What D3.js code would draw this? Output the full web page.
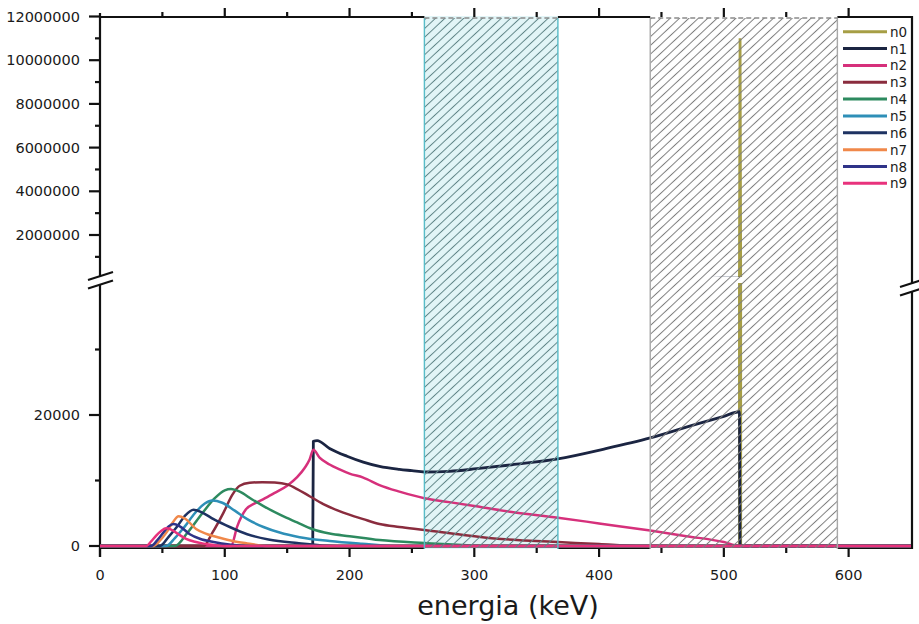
<!DOCTYPE html>
<html><head><meta charset="utf-8">
<script src="https://cdn.jsdelivr.net/npm/d3@7"></script>
<style>body{margin:0;background:#fff}svg{display:block}</style>
</head><body><svg id="c" width="919" height="624"></svg>
<script>
// ---------- data ----------
const seriesNames = ["n0","n1","n2","n3","n4","n5","n6","n7","n8","n9"];
const seriesColors = ["#a69e45","#1b2542","#d6307b","#8a2c3e","#2d8a5f","#2e8fb7","#1e3262","#f0884a","#2f3388","#e8327c"];

const e0 = [0, 512.5, 513, 513.5, 650];
const c0 = [0, 0, 11000000, 0, 0];
const e1 = [0, 170.5, 171, 174, 184, 198, 211, 224, 240, 250, 260, 280, 302, 330, 367, 404, 441, 476, 500, 512.5, 513, 650];
const c1 = [0, 0, 16000, 16100, 14900, 13700, 12800, 12150, 11700, 11500, 11300, 11400, 11800, 12400, 13300, 14800, 16500, 18500, 19800, 20500, 0, 0];
const e2 = [0, 105, 110, 117, 124, 131, 140, 150, 158, 164, 168, 171, 176, 184, 192, 200, 211, 224, 240, 260, 280, 300, 330, 367, 400, 441, 470, 500, 512, 650];
const c2 = [0, 0, 3000, 5600, 6500, 7150, 8100, 9200, 10500, 11900, 13200, 14700, 13500, 12450, 11700, 11050, 10450, 9300, 8300, 7300, 6700, 6100, 5200, 4330, 3450, 2350, 1500, 600, 0, 0];
const e3 = [0, 83, 90, 99, 106, 112, 120, 130, 140, 150, 158, 168, 179, 195, 211, 224, 240, 260, 290, 316, 340, 367, 400, 430, 650];
const c3 = [0, 0, 2000, 5100, 7800, 9200, 9650, 9750, 9700, 9400, 8700, 7600, 6400, 5100, 4100, 3350, 2900, 2450, 1700, 1150, 850, 600, 300, 0, 0];
const e4 = [0, 60, 70, 82, 92, 100, 105, 112, 122, 131, 145, 158, 170, 184, 200, 224, 260, 320, 650];
const c4 = [0, 0, 2000, 5000, 7300, 8500, 8700, 8300, 7100, 6100, 4700, 3600, 2600, 1900, 1500, 900, 450, 0, 0];
const e5 = [0, 53, 60, 68, 76, 84, 90, 98, 108, 118, 131, 144, 160, 184, 210, 240, 650];
const c5 = [0, 0, 1200, 3000, 5000, 6500, 6950, 6600, 5400, 4100, 2900, 2050, 1350, 760, 350, 0, 0];
const e6 = [0, 48, 55, 62, 68, 75, 82, 91, 104, 118, 135, 158, 190, 650];
const c6 = [0, 0, 1400, 3000, 4600, 5550, 5100, 4100, 2900, 1800, 1000, 450, 0, 0];
const e7 = [0, 43, 48, 53, 58, 63, 68, 77, 86, 96, 108, 118, 135, 650];
const c7 = [0, 0, 800, 2000, 3500, 4550, 4200, 2600, 1800, 1250, 700, 400, 0, 0];
const e8 = [0, 41, 46, 51, 55, 59, 64, 72, 80, 91, 105, 120, 650];
const c8 = [0, 0, 900, 2100, 3000, 3350, 3000, 1800, 1100, 600, 200, 0, 0];
const e9 = [0, 37, 41, 45, 49, 53, 57, 62, 69, 76, 82, 90, 100, 650];
const c9 = [0, 0, 700, 1600, 2300, 2700, 2500, 1900, 1100, 650, 400, 180, 0, 0];

const energies = [e0,e1,e2,e3,e4,e5,e6,e7,e8,e9];
const counts = [c0,c1,c2,c3,c4,c5,c6,c7,c8,c9];

const xMajorTicks = [0,100,200,300,400,500,600];
const xMinorTicks = [50,150,250,350,450,550];
const yLowMajor = [0, 20000];
const yLowMinor = [10000, 30000];
const yHighMajor = [2000000,4000000,6000000,8000000,10000000,12000000];
const yHighMinor = [1000000,3000000,5000000,7000000,9000000,11000000];
const bandCyan = [260, 367];
const bandGray = [441, 591];
const xTitle = "energia (keV)";

// ---------- layout ----------
const svg = d3.select("#c");
const L = 100, R = 912, TOP = 17, BOT = 548;
const x = d3.scaleLinear().domain([0,650]).range([L, 911]);
const yLo = d3.scaleLinear().domain([0,20000]).range([546,415]);
const yHi = d3.scaleLinear().domain([2000000,12000000]).range([235,16.5]);
const font = "'DejaVu Sans', sans-serif";
const ink = "#111";

const defs = svg.append("defs");
defs.append("clipPath").attr("id","clipLo").append("rect").attr("x",L).attr("y",283).attr("width",R-L).attr("height",270);
defs.append("clipPath").attr("id","clipHi").append("rect").attr("x",L).attr("y",10).attr("width",R-L).attr("height",267);
function hatch(id, color){
  const p = defs.append("pattern").attr("id",id).attr("patternUnits","userSpaceOnUse")
    .attr("width",6.4).attr("height",6.4).attr("patternTransform","rotate(47)");
  p.append("line").attr("x1",3.2).attr("y1",-1).attr("x2",3.2).attr("y2",8).attr("stroke",color).attr("stroke-width",1);
}
hatch("hC","#5f8587");
hatch("hG","#7d7d7d");

// axis lines
const ax = svg.append("g").attr("stroke",ink).attr("stroke-width",2.2).attr("fill","none");
ax.append("line").attr("x1",L).attr("x2",R).attr("y1",TOP).attr("y2",TOP);
ax.append("line").attr("x1",L).attr("x2",R).attr("y1",BOT).attr("y2",BOT);
ax.append("line").attr("x1",L).attr("x2",L).attr("y1",13).attr("y2",277);
ax.append("line").attr("x1",L).attr("x2",L).attr("y1",284).attr("y2",557);
ax.append("line").attr("x1",R).attr("x2",R).attr("y1",TOP-1).attr("y2",284);
ax.append("line").attr("x1",R).attr("x2",R).attr("y1",291).attr("y2",BOT+1);

// band fills
function bandFill(b, fill){
  svg.append("rect").attr("x",x(b[0])).attr("width",x(b[1])-x(b[0]))
    .attr("y",TOP-1).attr("height",BOT+1-(TOP-1)).attr("fill",fill);
}
bandFill(bandCyan,"#e2f5f7");
bandFill(bandGray,"#ffffff");

// curves
const gLo = svg.append("g").attr("clip-path","url(#clipLo)");
const gHi = svg.append("g").attr("clip-path","url(#clipHi)");
seriesNames.forEach((n,i)=>{
  const pts = energies[i].map((e,j)=>[e, counts[i][j]]);
  const cv = i===0 ? d3.curveLinear : d3.curveMonotoneX;
  const lineLo = d3.line().x(d=>x(d[0])).y(d=>yLo(d[1])).curve(cv);
  const lineHi = d3.line().x(d=>x(d[0])).y(d=>yHi(d[1])).curve(cv);
  gLo.append("path").attr("d", lineLo(pts))
    .attr("fill","none").attr("stroke",seriesColors[i]).attr("stroke-width", i<=1?2.8:2.5).attr("stroke-linejoin","round");
  gHi.append("path").attr("d", lineHi(pts))
    .attr("fill","none").attr("stroke",seriesColors[i]).attr("stroke-width",2.8);
});

// hatch overlay + borders
function bandTop(b, pat, border){
  const x0 = x(b[0]), x1 = x(b[1]);
  svg.append("rect").attr("x",x0).attr("width",x1-x0).attr("y",TOP+1).attr("height",BOT-TOP-1).attr("fill",`url(#${pat})`);
  const g = svg.append("g").attr("stroke",border).attr("stroke-width",1.4);
  g.append("line").attr("x1",x0).attr("x2",x0).attr("y1",TOP+1).attr("y2",BOT+1);
  g.append("line").attr("x1",x1).attr("x2",x1).attr("y1",TOP+1).attr("y2",BOT+1);
  g.append("line").attr("x1",x0).attr("x2",x1).attr("y1",TOP+1).attr("y2",TOP+1).attr("stroke","#8a8a8a").attr("stroke-dasharray","5,3");
}
bandTop(bandCyan,"hC","#58bcc8");
bandTop(bandGray,"hG","#a8a8a8");

// ticks
const tk = svg.append("g").attr("stroke",ink).attr("stroke-width",2.2);
xMajorTicks.forEach(v=>{
  tk.append("line").attr("x1",x(v)).attr("x2",x(v)).attr("y1",BOT).attr("y2",BOT+9);
  if(v>0) tk.append("line").attr("x1",x(v)).attr("x2",x(v)).attr("y1",TOP).attr("y2",TOP-9);
});
xMinorTicks.forEach(v=>{
  tk.append("line").attr("x1",x(v)).attr("x2",x(v)).attr("y1",BOT).attr("y2",BOT+5);
  tk.append("line").attr("x1",x(v)).attr("x2",x(v)).attr("y1",TOP).attr("y2",TOP-5);
});
yLowMajor.forEach(v=>tk.append("line").attr("x1",L-11).attr("x2",L).attr("y1",yLo(v)).attr("y2",yLo(v)));
yLowMinor.forEach(v=>tk.append("line").attr("x1",L-5).attr("x2",L).attr("y1",yLo(v)).attr("y2",yLo(v)));
yHighMajor.forEach(v=>tk.append("line").attr("x1",L-11).attr("x2",L).attr("y1",yHi(v)).attr("y2",yHi(v)));
yHighMinor.forEach(v=>tk.append("line").attr("x1",L-5).attr("x2",L).attr("y1",yHi(v)).attr("y2",yHi(v)));

// labels
const lab = svg.append("g").attr("font-family",font).attr("font-size",14.5).attr("fill","#1a1a1a");
xMajorTicks.forEach(v=>lab.append("text").attr("x",x(v)).attr("y",580).attr("text-anchor","middle").text(v));
const fmt = d3.format("d");
yLowMajor.forEach(v=>lab.append("text").attr("x",80).attr("y",yLo(v)+5).attr("text-anchor","end").text(fmt(v)));
yHighMajor.forEach(v=>lab.append("text").attr("x",80).attr("y",yHi(v)+5).attr("text-anchor","end").text(fmt(v)));
svg.append("text").attr("x",508).attr("y",615).attr("text-anchor","middle").attr("font-family",font)
  .attr("font-size",27).attr("fill","#1a1a1a").text(xTitle);

// break marks
const br = svg.append("g").attr("stroke",ink).attr("stroke-width",2.2);
[[L,276],[L,284.5]].forEach(([cx,cy])=>br.append("line").attr("x1",cx-12).attr("y1",cy+4).attr("x2",cx+13).attr("y2",cy-4));
[[R,283],[R,291.5]].forEach(([cx,cy])=>br.append("line").attr("x1",cx-12).attr("y1",cy+4).attr("x2",cx+8).attr("y2",cy-2.5));

// legend
const lg = svg.append("g").attr("font-family",font).attr("font-size",13.5);
seriesNames.forEach((n,i)=>{
  const yy = 31.7 + i*16.85;
  lg.append("line").attr("x1",843).attr("x2",887).attr("y1",yy).attr("y2",yy).attr("stroke",seriesColors[i]).attr("stroke-width",3);
  lg.append("text").attr("x",890).attr("y",yy+5).attr("fill","#1a1a1a").text(n);
});
</script></body></html>
